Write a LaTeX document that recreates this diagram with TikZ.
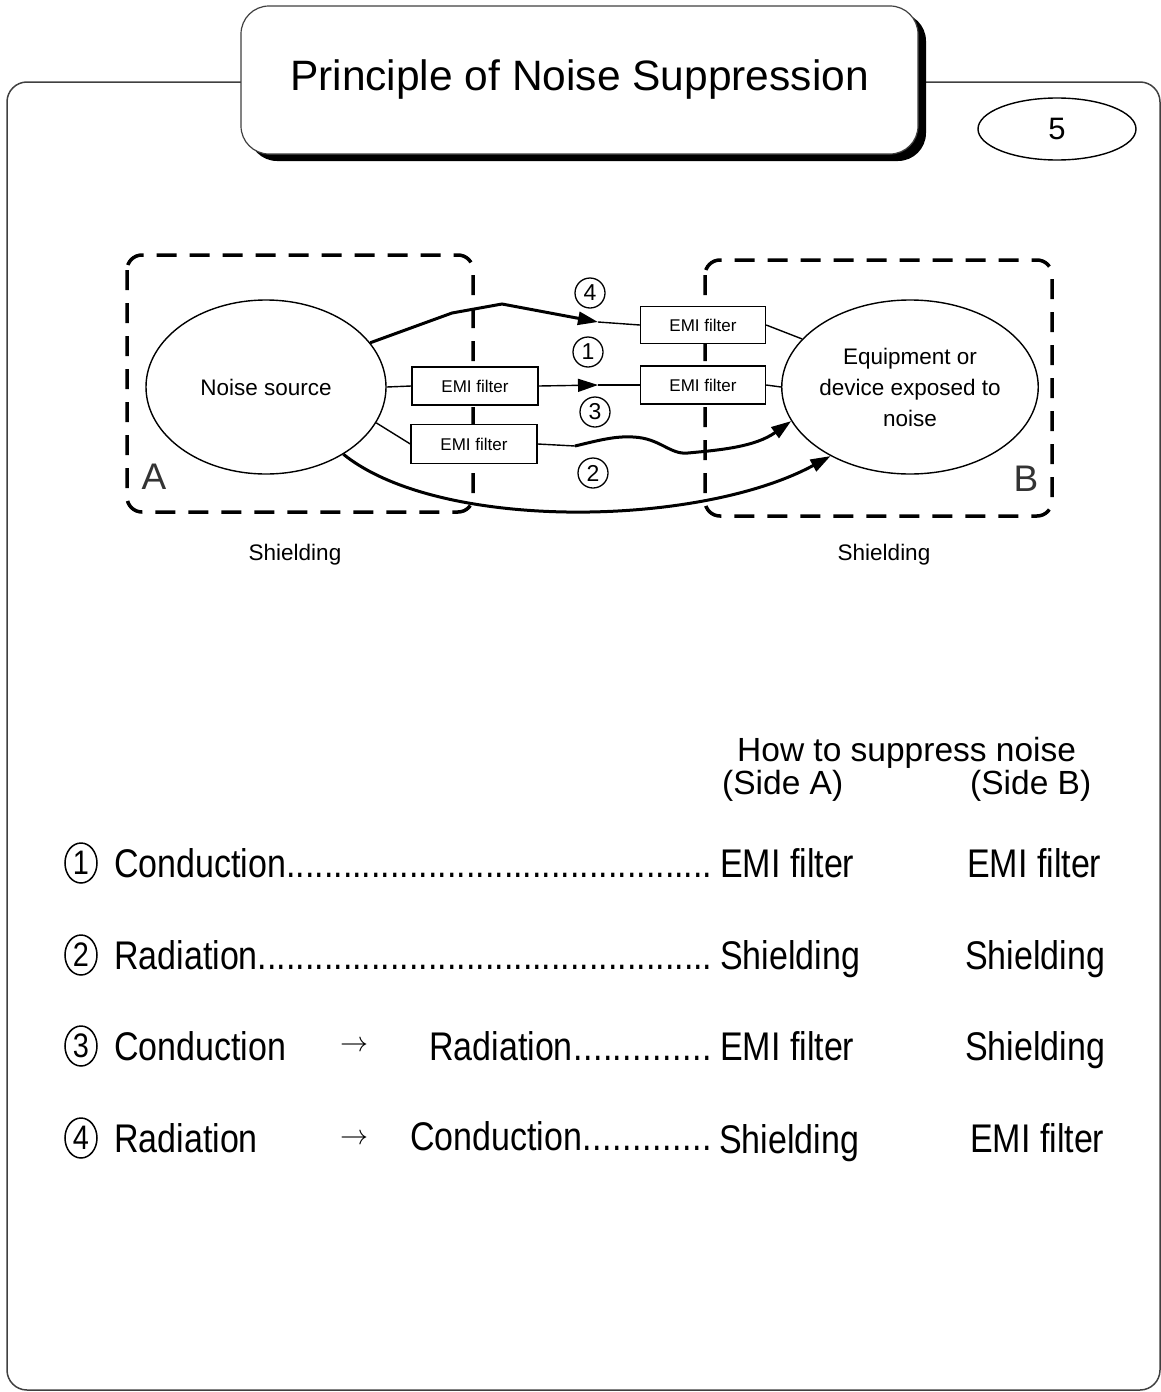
\documentclass[tikz,border=0pt]{standalone}
\usepackage{fontspec}
\usepackage{graphicx}
\setmainfont{Liberation Sans}
\newfontfamily\condfont[FakeStretch=0.85]{Liberation Sans}
\usetikzlibrary{arrows.meta,shapes.geometric}
\begin{document}
\begin{tikzpicture}[x=1pt,y=-1pt,
  thinline/.style={line width=1.4pt},
  thickline/.style={line width=3pt},
  shieldbox/.style={line width=3.5pt, dash pattern=on 20pt off 13pt, rounded corners=15pt},
  emibox/.style={draw, line width=1.4pt, fill=white, minimum width=126pt, minimum height=38pt, inner sep=0pt, font=\fontsize{17}{17}\selectfont},
  bigell/.style={draw, ellipse, line width=1.4pt, fill=white, minimum width=240pt, minimum height=174pt, inner sep=0pt, font=\fontsize{22.5}{31}\selectfont, align=center},
  cnum/.style={draw, circle, line width=1.3pt, minimum size=30pt, inner sep=0pt, font=\fontsize{23}{23}\selectfont},
  lnum/.style={draw, ellipse, line width=1.5pt, minimum width=32pt, minimum height=40pt, inner sep=0pt, font=\condfont\fontsize{34}{34}\selectfont},
  ltext/.style={anchor=base west, inner sep=0pt, font=\condfont\fontsize{40}{40}\selectfont},
  htext/.style={anchor=base west, inner sep=0pt, font=\fontsize{33.5}{33.5}\selectfont},
  lbl/.style={inner sep=0pt, font=\fontsize{22.5}{22.5}\selectfont},
  tip/.style={-{Triangle[length=20pt,width=13pt]}},
  frameline/.style={line width=1.5pt, draw=black!75},
]
\useasboundingbox (0,0) rectangle (1161,1392);
% outer frame
\draw[frameline, rounded corners=20pt] (241,82) -- (7,82) -- (7,1390) -- (1160,1390) -- (1160,82) -- (918,82);
% title box with shadow
\fill[black, rounded corners=28pt] (249,13) rectangle (926,161);
\node[draw=black!75, line width=1.2pt, fill=white, rounded corners=28pt, minimum width=677pt, minimum height=148pt, inner sep=0pt, font=\fontsize{42.5}{42.5}\selectfont] (title) at (579.5,80) {Principle of Noise Suppression};
\node[draw, ellipse, line width=1.4pt, minimum width=158pt, minimum height=62pt, inner sep=0pt, font=\fontsize{31}{31}\selectfont] (pg) at (1057,129) {5};

% shielding boxes
\draw[shieldbox] (127,255) rectangle (473,512);
\draw[shieldbox] (705,260) rectangle (1052,516);

% ellipses
\node[bigell] (ns) at (266,387) {Noise source};
\node[bigell] (eq) at (910,387) {Equipment or\\device exposed to\\noise};

% EMI filter boxes
\node[emibox] (box1) at (475,386) {EMI filter};
\node[emibox, minimum height=39pt] (box3) at (474,444) {EMI filter};
\node[emibox, minimum width=125pt, minimum height=37pt] (boxBt) at (703,325) {EMI filter};
\node[emibox, minimum width=125pt] (boxBm) at (703,385) {EMI filter};

% helper coordinates
\coordinate (a1) at (598,385);
\coordinate (a4) at (598,322);
\coordinate (k1) at (452,313);
\coordinate (k2) at (502,304);
\coordinate (w0) at (575,446);
\coordinate (w1) at (633,437);
\coordinate (w2) at (688,453);

% path 1
\draw[thinline] (ns.east) -- (box1.west);
\draw[thinline, tip] (box1.east) -- (a1);
\draw[thinline] (a1) -- (boxBm.west);
\draw[thinline] (boxBm.east) -- (eq.west);
% path 4
\draw[thickline, tip] (ns.23) -- (k1) -- (k2) -- (a4);
\draw[thinline] (a4) -- (boxBt.west);
\draw[thinline] (boxBt.east) -- (eq.156);
% path 3
\draw[thinline] (ns.-18) -- (box3.west);
\draw[thinline] (box3.east) -- (w0);
\draw[thickline, tip] (w0) .. controls (600,440) and (615,436) .. (w1) .. controls (660,438) and (670,455) .. (w2) .. controls (720,450) and (755,447) .. (eq.-164);
% path 2
\draw[thickline, tip] (ns.-41) .. controls (440,532) and (700,527) .. (eq.-139);

% circled numbers
\node[cnum] (c4) at (590,293) {4};
\node[cnum] (c1) at (588,352) {1};
\node[cnum] (c3) at (595,412) {3};
\node[cnum] (c2) at (593,473) {2};

% labels
\node[font=\fontsize{37}{37}\selectfont, text=black!80, inner sep=0pt] (la) at (154,477) {A};
\node[font=\fontsize{37}{37}\selectfont, text=black!80, inner sep=0pt] (lb) at (1026,479) {B};
\node[lbl] (shA) at (295,555) {Shielding};
\node[lbl] (shB) at (884,555) {Shielding};

% header
\node[htext] (hdr) at (737,761) {How to suppress noise};
\node[htext] (sa) at (722,794) {(Side A)};
\node[htext] (sb) at (970,794) {(Side B)};

% row 1
\node[lnum] (n1) at (81,863) {1};
\node[ltext] (r1) at (114,877) {\makebox[598pt][l]{Conduction\xleaders\hbox{.}\hfill}};
\node[ltext] (r1a) at (720,877) {EMI filter};
\node[ltext] (r1b) at (967,877) {EMI filter};
% row 2
\node[lnum] (n2) at (81,955) {2};
\node[ltext] (r2) at (114,969) {\makebox[598pt][l]{Radiation\xleaders\hbox{.}\hfill}};
\node[ltext] (r2a) at (720,969) {Shielding};
\node[ltext] (r2b) at (965,969) {Shielding};
% row 3
\node[lnum] (n3) at (81,1046) {3};
\node[ltext] (r3) at (114,1060) {Conduction};
\node[inner sep=0pt] (ar3) at (354,1046) {\scalebox{2.8}{$\rightarrow$}};
\node[ltext] (r3m) at (429,1060) {\makebox[283pt][l]{Radiation\xleaders\hbox{.}\hfill}};
\node[ltext] (r3a) at (720,1060) {EMI filter};
\node[ltext] (r3b) at (965,1060) {Shielding};
% row 4
\node[lnum] (n4) at (81,1138) {4};
\node[ltext] (r4) at (114,1152) {Radiation};
\node[inner sep=0pt] (ar4) at (354,1139) {\scalebox{2.8}{$\rightarrow$}};
\node[ltext] (r4m) at (410,1150) {\makebox[302pt][l]{Conduction\xleaders\hbox{.}\hfill}};
\node[ltext] (r4a) at (719,1153) {Shielding};
\node[ltext] (r4b) at (970,1152) {EMI filter};
\end{tikzpicture}
\end{document}
